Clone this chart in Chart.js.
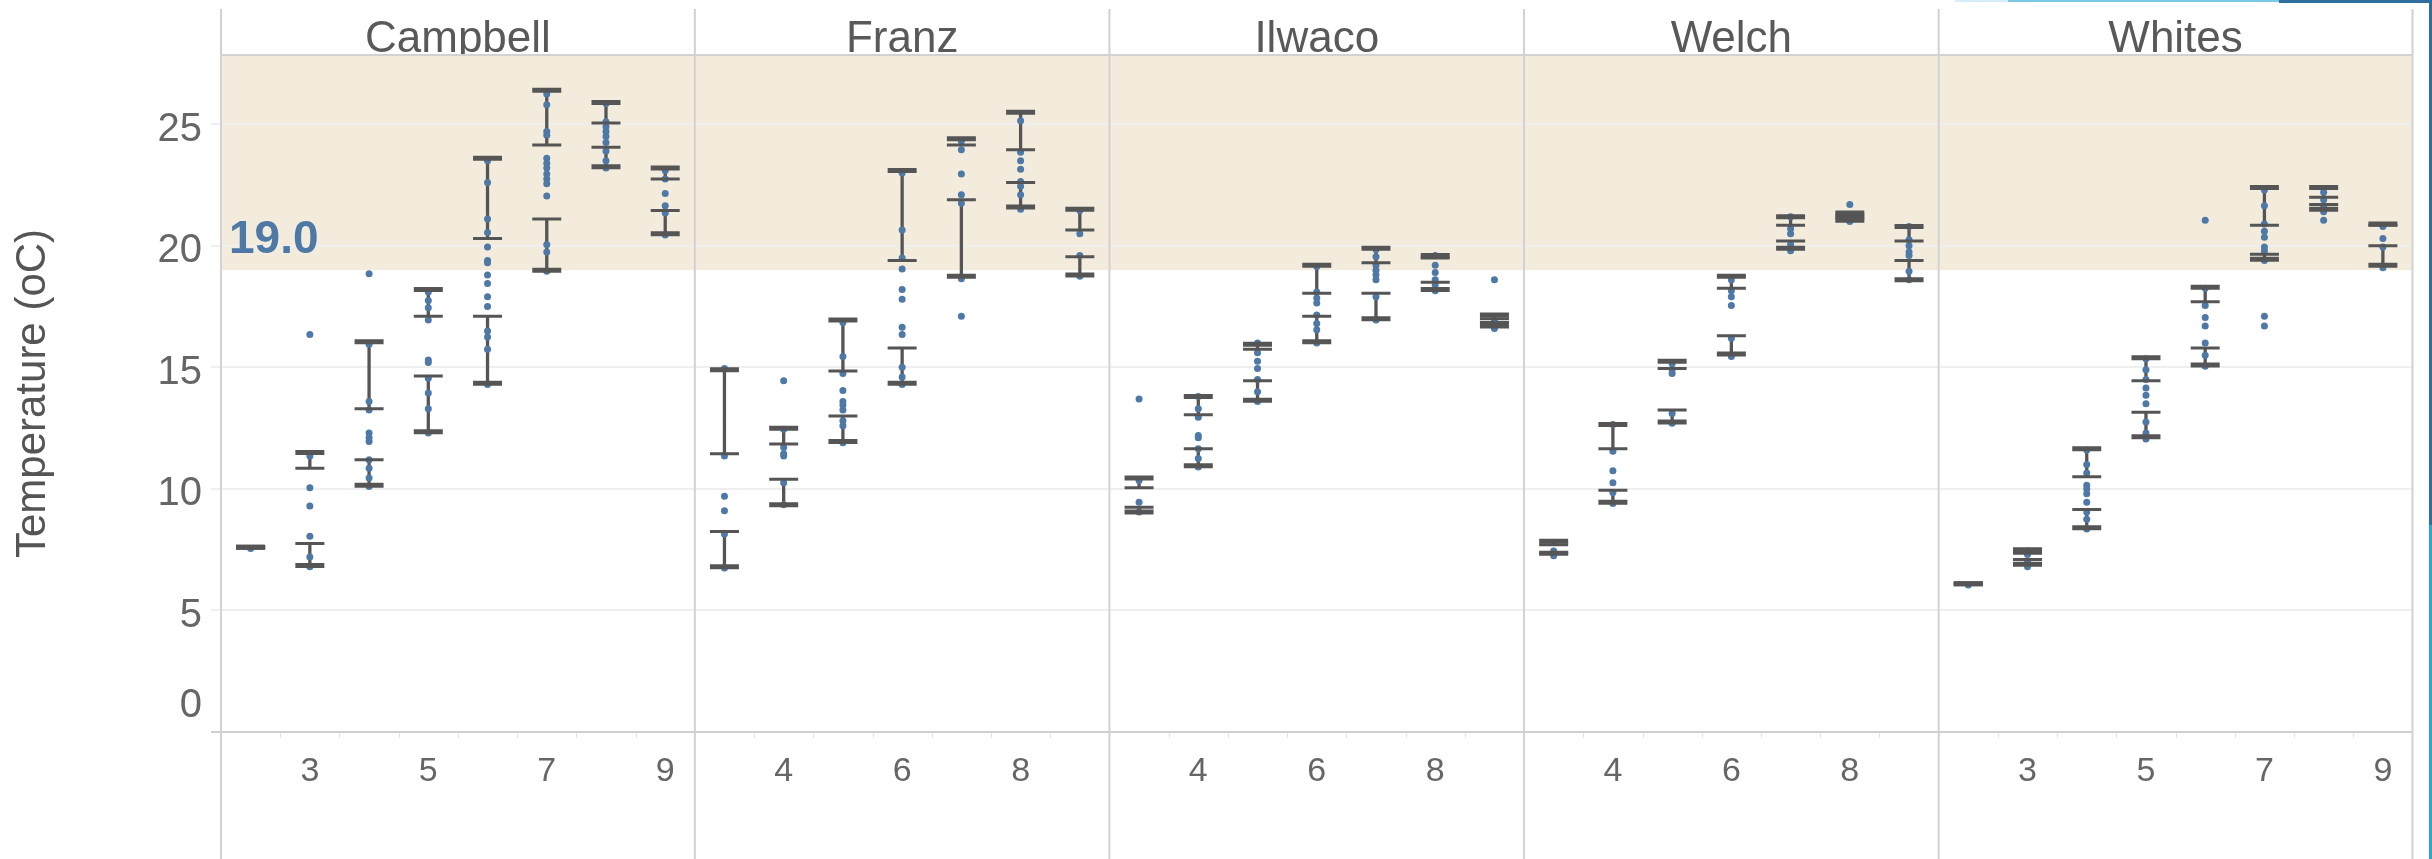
<!DOCTYPE html>
<html>
<head>
<meta charset="utf-8">
<script src="https://cdn.jsdelivr.net/npm/chart.js@4.4.1/dist/chart.umd.min.js"></script>
<style>
html,body{margin:0;padding:0;background:#fff;}
#wrap{position:relative;width:2432px;height:859px;}
</style>
</head>
<body>
<div id="wrap"><canvas id="chart"></canvas></div>
<script>
const SITES=['Campbell','Franz','Ilwaco','Welch','Whites'];
const TICK_MONTHS=[[3,5,7,9],[4,6,8],[4,6,8],[4,6,8],[3,5,7,9]];
const Y_TICKS=[0,5,10,15,20,25];
const Y_MAX=27.85;
const THRESHOLD=19.0;

// Campbell
const campbellMonths=[2,3,4,5,6,7,8,9];
const campbellMax=[7.6,11.5,16.05,18.2,23.6,26.4,25.9,23.2];
const campbellQ3=[7.6,10.85,13.3,17.1,20.3,24.15,25.05,22.75];
const campbellQ1=[7.6,7.75,11.2,14.65,17.1,21.1,24.05,21.45];
const campbellMin=[7.6,6.85,10.15,12.35,14.35,19.0,23.25,20.5];
const campbellTemps=[
  [7.55],
  [16.35,11.35,10.05,9.3,8.05,7.2,6.8],
  [18.85,15.95,13.6,13.25,12.3,12.1,11.95,11.2,10.85,10.45,10.1],
  [18.1,17.75,17.45,16.95,15.3,15.2,14.55,13.95,13.3,12.3],
  [23.5,22.6,21.1,20.55,19.95,19.4,19.3,18.8,18.45,17.9,17.5,16.5,16.25,15.75,14.3],
  [26.25,25.8,24.7,24.55,23.6,23.4,23.2,22.95,22.75,22.55,22.05,20.05,19.75,18.95],
  [25.85,25.1,24.9,24.7,24.5,24.25,23.9,23.5,23.2],
  [23.1,22.75,22.15,21.65,21.35,20.45]
];

// Franz
const franzMonths=[3,4,5,6,7,8,9];
const franzMax=[14.9,12.5,16.95,23.1,24.4,25.5,21.5];
const franzQ3=[11.45,11.85,14.85,19.4,24.15,23.95,20.65];
const franzQ1=[8.25,10.4,13.0,15.8,21.9,22.6,19.55];
const franzMin=[6.8,9.35,11.95,14.35,18.75,21.6,18.8];
const franzTemps=[
  [14.95,11.35,9.7,9.1,8.15,6.75],
  [14.45,12.45,11.7,11.45,11.35,10.25,9.35],
  [16.85,15.45,14.75,14.05,13.6,13.45,13.25,12.8,12.6,11.9],
  [23.0,20.65,19.5,19.05,18.2,17.8,16.65,16.35,15.0,14.6,14.3],
  [24.3,23.95,22.95,22.1,21.75,18.65,17.1],
  [25.15,23.85,23.5,23.15,22.65,22.45,22.1,21.5],
  [21.45,20.5,19.6,18.75]
];

// Ilwaco
const ilwacoMonths=[3,4,5,6,7,8,9];
const ilwacoMax=[10.45,13.8,15.95,19.2,19.9,19.6,17.15];
const ilwacoQ3=[10.05,13.05,15.75,18.05,19.3,19.5,17.0];
const ilwacoQ1=[9.25,11.65,14.45,17.1,18.05,18.5,16.85];
const ilwacoMin=[9.05,10.95,13.65,16.05,17.0,18.2,16.7];
const ilwacoTemps=[
  [13.7,10.35,9.45,9.05],
  [13.8,13.3,12.95,12.2,12.1,11.65,11.25,10.9],
  [16.0,15.6,15.25,14.95,14.5,14.0,13.6],
  [19.15,18.1,17.85,17.65,17.15,16.8,16.55,16.0],
  [19.85,19.55,19.2,19.0,18.8,18.6,17.9,16.95],
  [19.6,19.2,18.9,18.6,18.4,18.15],
  [18.6,16.95,16.6]
];

// Welch
const welchMonths=[3,4,5,6,7,8,9];
const welchMax=[7.85,12.65,15.25,18.75,21.2,21.35,20.8];
const welchQ3=[7.7,11.65,14.95,18.25,20.85,21.25,20.2];
const welchQ1=[7.35,9.95,13.25,16.3,20.2,21.15,19.4];
const welchMin=[7.35,9.45,12.75,15.55,19.9,21.05,18.6];
const welchTemps=[
  [7.8,7.45,7.25],
  [12.65,11.55,10.75,10.25,9.85,9.4],
  [15.15,14.9,14.75,13.1,12.7],
  [18.6,18.15,17.9,17.55,16.2,15.45],
  [21.2,20.7,20.5,20.05,19.8],
  [21.7,21.25,21.0],
  [20.8,20.25,20.0,19.75,19.6,18.95,18.6]
];

// Whites
const whitesMonths=[2,3,4,5,6,7,8,9];
const whitesMax=[6.1,7.5,11.65,15.4,18.3,22.4,22.4,20.9];
const whitesQ3=[6.1,7.35,10.5,14.45,17.7,20.85,22.0,20.85];
const whitesQ1=[6.1,7.1,9.15,13.15,15.8,19.65,21.7,20.0];
const whitesMin=[6.1,6.9,8.4,12.15,15.1,19.45,21.5,19.2];
const whitesTemps=[
  [6.05],
  [7.45,7.3,7.0,6.8],
  [11.6,11.0,10.65,10.15,10.0,9.8,9.45,9.05,8.75,8.35],
  [15.35,14.9,14.5,14.15,13.85,13.5,12.75,12.3,12.05],
  [21.05,18.25,17.55,17.05,16.7,16.0,15.5,15.05],
  [22.3,21.65,20.9,20.6,20.35,19.95,19.8,19.4,17.1,16.7],
  [22.2,21.9,21.6,21.4,21.05],
  [20.8,20.3,19.95,19.1]
];

const MONTHS=[campbellMonths,franzMonths,ilwacoMonths,welchMonths,whitesMonths];
const MAXS=[campbellMax,franzMax,ilwacoMax,welchMax,whitesMax];
const Q3S=[campbellQ3,franzQ3,ilwacoQ3,welchQ3,whitesQ3];
const Q1S=[campbellQ1,franzQ1,ilwacoQ1,welchQ1,whitesQ1];
const MINS=[campbellMin,franzMin,ilwacoMin,welchMin,whitesMin];
const TEMPS=[campbellTemps,franzTemps,ilwacoTemps,welchTemps,whitesTemps];

// panels sit side by side on one linear x axis; each panel spans its months +-0.5
const widths=MONTHS.map(m=>m[m.length-1]-m[0]+1);
const offs=[];
widths.reduce((s,w,i)=>{offs[i]=s;return s+w;},0);
const TOTAL=widths.reduce((s,w)=>s+w,0);
const gx=(i,m)=>offs[i]+(m-(MONTHS[i][0]-0.5));

const dots=[],whisk=[],capsOuter=[],capsInner=[];
MONTHS.forEach((months,i)=>{
  months.forEach((m,j)=>{
    const x=gx(i,m);
    TEMPS[i][j].forEach(v=>dots.push({x,y:v}));
    whisk.push({x,y:MINS[i][j]},{x,y:Q1S[i][j]},{x,y:null},{x,y:Q3S[i][j]},{x,y:MAXS[i][j]},{x,y:null});
    capsOuter.push({x,y:MAXS[i][j]},{x,y:MINS[i][j]});
    capsInner.push({x,y:Q3S[i][j]},{x,y:Q1S[i][j]});
  });
});
const xTickVals=[];
const xTickText={};
TICK_MONTHS.forEach((ms,i)=>ms.forEach(m=>{const v=gx(i,m);xTickVals.push(v);xTickText[v]=String(m);}));

const FONT='"Liberation Sans", Arial, Helvetica, sans-serif';
Chart.defaults.font.family=FONT;

const panelDecor={
  id:'panelDecor',
  beforeDraw(chart){
    const {ctx,chartArea:a,scales:{y}}=chart;
    ctx.save();
    ctx.fillStyle='#ffffff';
    ctx.fillRect(0,0,chart.width,chart.height);
    const yb=y.getPixelForValue(THRESHOLD);
    ctx.fillStyle='#f3ecdc';
    ctx.fillRect(a.left,a.top,a.right-a.left,yb-a.top);
    ctx.restore();
  },
  afterDraw(chart){
    const {ctx,chartArea:a,scales:{x,y}}=chart;
    ctx.save();
    // faint half-month ticks under the axis
    ctx.strokeStyle='#e4e4e4';ctx.lineWidth=1;
    for(let g=1;g<TOTAL;g++){
      const px=Math.round(x.getPixelForValue(g))+0.5;
      ctx.beginPath();ctx.moveTo(px,a.bottom+1);ctx.lineTo(px,a.bottom+6);ctx.stroke();
    }
    // panel dividers + header rule
    ctx.strokeStyle='#d2d2d2';ctx.lineWidth=2;
    offs.concat([TOTAL]).forEach(b=>{
      const px=x.getPixelForValue(b);
      ctx.beginPath();ctx.moveTo(px,9);ctx.lineTo(px,chart.height);ctx.stroke();
    });
    ctx.beginPath();ctx.moveTo(a.left,a.top);ctx.lineTo(a.right,a.top);ctx.stroke();
    // panel titles, clipped at the header rule
    ctx.save();
    ctx.beginPath();ctx.rect(0,0,chart.width,a.top-1);ctx.clip();
    ctx.font='44px '+FONT;ctx.fillStyle='#595959';ctx.textAlign='center';ctx.textBaseline='alphabetic';
    SITES.forEach((s,i)=>{
      const cx=(x.getPixelForValue(offs[i])+x.getPixelForValue(offs[i]+widths[i]))/2;
      ctx.fillText(s,cx,52);
    });
    ctx.restore();
    // y tick labels (bottom one pulled inside the pane)
    ctx.font='40px '+FONT;ctx.fillStyle='#666666';ctx.textAlign='right';ctx.textBaseline='alphabetic';
    Y_TICKS.forEach(v=>{
      let yc=y.getPixelForValue(v)+2;
      if(v===0) yc=a.bottom-29;
      ctx.fillText(String(v),a.left-19,yc+14.3);
    });
    // threshold label
    ctx.font='bold 46px '+FONT;ctx.fillStyle='#4e79a7';ctx.textAlign='left';
    ctx.fillText(THRESHOLD.toFixed(1),a.left+8,y.getPixelForValue(THRESHOLD)-17);
    // window edge strip seen in the capture
    ctx.fillStyle='#d6eef8';ctx.fillRect(1955,0,53,2);
    ctx.fillStyle='#7cc9e6';ctx.fillRect(2008,0,271,2);
    ctx.fillStyle='#2f6e9e';ctx.fillRect(2279,0,153,3);
    ctx.fillStyle='#2f6e9e';ctx.fillRect(2429,0,3,525);
    ctx.fillStyle='#2aa6d9';ctx.fillRect(2429,525,3,334);
    ctx.restore();
  }
};

new Chart(document.getElementById('chart'),{
  type:'scatter',
  data:{datasets:[
    {label:'Upper/lower whisker caps',data:capsOuter,order:0,pointStyle:'line',pointRadius:14.5,pointHoverRadius:14.5,
      pointBorderWidth:5,pointBorderColor:'#555555',pointBackgroundColor:'#555555'},
    {label:'Quartile lines',data:capsInner,order:0,pointStyle:'line',pointRadius:14.5,pointHoverRadius:14.5,
      pointBorderWidth:3,pointBorderColor:'#555555',pointBackgroundColor:'#555555'},
    {label:'Readings',data:dots,order:1,pointRadius:3.5,pointHoverRadius:3.5,pointBorderWidth:0,
      pointBackgroundColor:'#4e79a7'},
    {type:'line',label:'Whiskers',data:whisk,order:2,borderColor:'#555555',borderWidth:3.3,
      pointRadius:0,spanGaps:false,fill:false,tension:0}
  ]},
  options:{
    responsive:true,maintainAspectRatio:false,animation:false,events:[],
    layout:{padding:{top:55,right:8,left:0,bottom:0}},
    plugins:{legend:{display:false},tooltip:{enabled:false}},
    scales:{
      x:{type:'linear',min:0,max:TOTAL,
        afterBuildTicks:s=>{s.ticks=xTickVals.map(v=>({value:v}));},
        afterFit:s=>{s.height=127;},
        grid:{display:false},border:{display:false},
        ticks:{autoSkip:false,maxRotation:0,padding:11,color:'#666666',font:{size:34},
          callback:v=>xTickText[v]||''}},
      y:{type:'linear',min:0,max:Y_MAX,
        afterBuildTicks:s=>{s.ticks=Y_TICKS.map(v=>({value:v}));},
        afterFit:s=>{s.width=221;},
        border:{display:false},
        grid:{color:c=>c.tick&&c.tick.value===0?'#d0d0d0':'#efefef',lineWidth:2,tickLength:10,drawTicks:true},
        ticks:{display:false},
        title:{display:true,text:'Temperature (oC)',color:'#555555',font:{size:42},padding:{top:8,bottom:0}}}
    }
  },
  plugins:[panelDecor]
});
</script>
</body>
</html>
